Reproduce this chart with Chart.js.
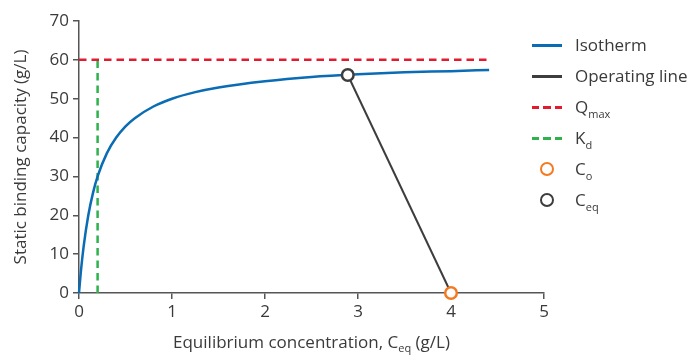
<!DOCTYPE html>
<html>
<head>
<meta charset="utf-8">
<script src="https://cdn.jsdelivr.net/npm/chart.js@4"></script>
<style>
    body { margin: 0; background: #fff; }
    #wrap { position: relative; width: 691px; height: 357px; font-family: "Open Sans", sans-serif; color: #3a3a3a; }
    #legend { position: absolute; left: 532px; top: 0; }
    .item { position: absolute; left: 0; height: 22px; width: 160px; font-size: 17px; line-height: 22px; }
    .item .sw { position: absolute; left: 0; top: 10px; width: 30px; height: 3px; }
    .item .dot { position: absolute; left: 8px; top: 4px; width: 10px; height: 10px; border-radius: 50%; background: #fff; border-width: 2.5px; border-style: solid; }
    .item .txt { position: absolute; left: 43px; top: 0; white-space: nowrap; }
    .item sub { font-size: 11px; vertical-align: -5px; line-height: 0; }
</style>
</head>
<body>
<div id="wrap">
    <canvas id="grafico" width="691" height="357"></canvas>
    <div id="legend"></div>
</div>
<script>
// Datos
const isoX = [0, 0.02, 0.05, 0.1, 0.15, 0.2, 0.3, 0.4, 0.5, 0.6, 0.8, 1.0, 1.25, 1.5, 2.0, 2.5, 3.0, 3.5, 4.0, 4.41];
const isoY = [0, 5.5, 12, 20, 25.7, 30, 36, 40, 42.9, 45, 48, 50, 51.7, 52.9, 54.5, 55.6, 56.3, 56.8, 57.1, 57.4];
const opX = [2.89, 4.0];
const opY = [56.1, 0];
const qmaxX = [0, 4.39];
const qmaxY = [60, 60];
const kdX = [0.2, 0.2];
const kdY = [0, 60];
const c0X = [4.0];
const c0Y = [0];
const ceqX = [2.89];
const ceqY = [56.1];
const xTicks = [0, 1, 2, 3, 4, 5];
const yTicks = [0, 10, 20, 30, 40, 50, 60, 70];

const azul = "#0a6cb4";
const gris = "#3d3d3d";
const rojo = "#e31b2e";
const verde = "#2fb14b";
const naranja = "#f47a20";
const texto = "#3a3a3a";

function pts(xs, ys) {
    return xs.map((x, i) => ({ x: x, y: ys[i] }));
}

// Títulos de ejes con subíndice
const titulos = {
    id: "titulos",
    afterDraw(chart) {
        const ctx = chart.ctx;
        const area = chart.chartArea;
        ctx.save();
        ctx.fillStyle = texto;
        ctx.textBaseline = "alphabetic";
        const f = '17px "Open Sans", sans-serif';
        const fs = '11px "Open Sans", sans-serif';
        const parts = [["Equilibrium concentration, C", f, 0], ["eq", fs, 4], [" (g/L)", f, 0]];
        let total = 0;
        parts.forEach(p => { ctx.font = p[1]; total += ctx.measureText(p[0]).width; });
        let x = (area.left + area.right) / 2 - total / 2;
        const y = 348;
        parts.forEach(p => {
            ctx.font = p[1];
            ctx.fillText(p[0], x, y + p[2]);
            x += ctx.measureText(p[0]).width;
        });
        ctx.translate(26, (area.top + area.bottom) / 2);
        ctx.rotate(-Math.PI / 2);
        ctx.font = f;
        ctx.textAlign = "center";
        ctx.fillText("Static binding capacity (g/L)", 0, 0);
        ctx.restore();
    }
};

document.addEventListener("DOMContentLoaded", function () {
    const ctx = document.getElementById("grafico").getContext("2d");
    new Chart(ctx, {
        type: "scatter",
        data: {
            datasets: [
                { label: "C0", data: pts(c0X, c0Y), showLine: false, pointRadius: 5.8, pointBorderWidth: 2.5, pointBackgroundColor: "#fff", pointBorderColor: naranja, order: 0, clip: false },
                { label: "Ceq", data: pts(ceqX, ceqY), showLine: false, pointRadius: 5.8, pointBorderWidth: 2.5, pointBackgroundColor: "#fff", pointBorderColor: gris, order: 0, clip: false },
                { label: "Operating line", data: pts(opX, opY), showLine: true, borderColor: gris, borderWidth: 2, pointRadius: 0, order: 1, clip: false },
                { label: "Isotherm", data: pts(isoX, isoY), showLine: true, borderColor: azul, borderWidth: 2.5, pointRadius: 0, cubicInterpolationMode: "monotone", order: 2, clip: false },
                { label: "Qmax", data: pts(qmaxX, qmaxY), showLine: true, borderColor: rojo, borderWidth: 2.5, borderDash: [7.5, 5], pointRadius: 0, order: 3, clip: false },
                { label: "Kd", data: pts(kdX, kdY), showLine: true, borderColor: verde, borderWidth: 2.5, borderDash: [7.5, 5], pointRadius: 0, order: 3, clip: false }
            ]
        },
        options: {
            responsive: false,
            animation: false,
            layout: { padding: { top: 21, right: 147, left: 0, bottom: 0 } },
            plugins: { legend: { display: false }, tooltip: { enabled: false } },
            scales: {
                x: {
                    type: "linear", min: 0, max: 5,
                    afterFit(s) { s.height = 64; },
                    afterBuildTicks(s) { s.ticks = xTicks.map(v => ({ value: v })); },
                    border: { color: "#555", width: 1.5 },
                    grid: { drawOnChartArea: false, drawTicks: true, tickLength: 6, color: "#555", lineWidth: 1.5 },
                    ticks: { color: texto, font: { family: "Open Sans", size: 17 }, padding: 3 }
                },
                y: {
                    type: "linear", min: 0, max: 70,
                    afterFit(s) { s.width = 79; },
                    afterBuildTicks(s) { s.ticks = yTicks.map(v => ({ value: v })); },
                    border: { color: "#555", width: 1.5 },
                    grid: { drawOnChartArea: false, drawTicks: true, tickLength: 6, color: "#555", lineWidth: 1.5 },
                    ticks: { color: texto, font: { family: "Open Sans", size: 17 }, padding: 4 }
                }
            }
        },
        plugins: [titulos]
    });

    // Leyenda en HTML (con subíndices)
    const items = [
        { html: "Isotherm", tipo: "line", color: azul, y: 34 },
        { html: "Operating line", tipo: "line", color: gris, y: 65 },
        { html: "Q<sub>max</sub>", tipo: "dash", color: rojo, y: 96 },
        { html: "K<sub>d</sub>", tipo: "dash", color: verde, y: 127 },
        { html: "C<sub>o</sub>", tipo: "dot", color: naranja, y: 158 },
        { html: "C<sub>eq</sub>", tipo: "dot", color: gris, y: 189 }
    ];
    const legend = document.getElementById("legend");
    items.forEach(it => {
        const d = document.createElement("div");
        d.className = "item";
        d.style.top = it.y + "px";
        let sw = "";
        if (it.tipo === "line") sw = `<span class="sw" style="background:${it.color}"></span>`;
        if (it.tipo === "dash") sw = `<span class="sw" style="height:2.5px;top:10px;background:repeating-linear-gradient(90deg, ${it.color} 0 7px, transparent 7px 11.5px)"></span>`;
        if (it.tipo === "dot") sw = `<span class="dot" style="border-color:${it.color}"></span>`;
        d.innerHTML = sw + `<span class="txt">${it.html}</span>`;
        legend.appendChild(d);
    });
});
</script>
</body>
</html>
